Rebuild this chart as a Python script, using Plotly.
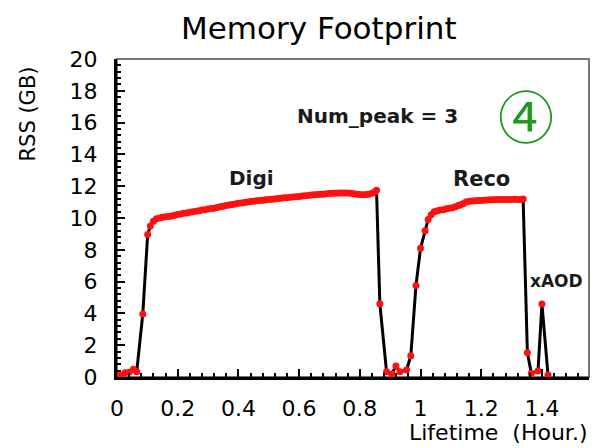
import plotly.graph_objects as go

# lifetime of the job (hours) and resident memory (GB)
lifetime_h = [
    0.0, 0.01, 0.026, 0.04, 0.054, 0.065, 0.085, 0.101,
    0.11, 0.12, 0.13, 0.14, 0.15, 0.16, 0.17, 0.18, 0.19, 0.20,
    0.21, 0.22, 0.23, 0.24, 0.25, 0.26, 0.27, 0.28, 0.29, 0.30,
    0.31, 0.32, 0.33, 0.34, 0.35, 0.36, 0.37, 0.38, 0.39, 0.40,
    0.41, 0.42, 0.43, 0.44, 0.45, 0.46, 0.47, 0.48, 0.49, 0.50,
    0.51, 0.52, 0.53, 0.54, 0.55, 0.56, 0.57, 0.58, 0.59, 0.60,
    0.61, 0.62, 0.63, 0.64, 0.65, 0.66, 0.67, 0.68, 0.69, 0.70,
    0.71, 0.72, 0.73, 0.74, 0.75, 0.76, 0.77, 0.78, 0.79, 0.80,
    0.81, 0.82, 0.83, 0.84, 0.85, 0.855,
    0.866, 0.888, 0.905, 0.919, 0.932, 0.954, 0.968, 0.985, 1.0, 1.015, 1.025, 1.035,
    1.045, 1.055, 1.065, 1.075, 1.085, 1.095, 1.105, 1.115, 1.125, 1.13,
    1.14, 1.15, 1.16, 1.17, 1.18, 1.19, 1.20, 1.21, 1.22, 1.23,
    1.24, 1.25, 1.26, 1.27, 1.28, 1.29, 1.30, 1.31, 1.32, 1.33, 1.338,
    1.352, 1.365, 1.387, 1.400, 1.420,
]
rss_gb = [
    0.1, 0.1, 0.27, 0.3, 0.48, 0.33, 3.97, 8.96,
    9.5, 9.8, 9.95, 10.0, 10.05, 10.08, 10.1, 10.12, 10.18, 10.22,
    10.25, 10.3, 10.32, 10.36, 10.4, 10.42, 10.46, 10.5, 10.52, 10.56,
    10.6, 10.62, 10.66, 10.7, 10.74, 10.78, 10.82, 10.85, 10.88, 10.92,
    10.95, 10.98, 11.0, 11.04, 11.06, 11.08, 11.1, 11.12, 11.15, 11.17,
    11.18, 11.2, 11.22, 11.25, 11.27, 11.28, 11.3, 11.32, 11.34, 11.36,
    11.38, 11.4, 11.42, 11.44, 11.46, 11.48, 11.5, 11.5, 11.52, 11.54,
    11.55, 11.56, 11.57, 11.58, 11.58, 11.57, 11.55, 11.52, 11.5, 11.48,
    11.47, 11.48, 11.5, 11.55, 11.65, 11.75,
    4.6, 0.33, 0.19, 0.69, 0.33, 0.44, 1.34, 5.76, 8.1, 9.2, 9.9, 10.2,
    10.4, 10.45, 10.5, 10.52, 10.58, 10.62, 10.65, 10.7, 10.78, 10.82,
    10.9, 11.0, 11.05, 11.07, 11.08, 11.1, 11.1, 11.12, 11.13, 11.15,
    11.15, 11.16, 11.17, 11.17, 11.17, 11.16, 11.17, 11.18, 11.17, 11.17, 11.2,
    1.53, 0.23, 0.38, 4.59, 0.13,
]

step_names = ["Digi", "Reco", "xAOD"]
step_label_x = [0.443, 1.202, 1.449]
step_label_y = [12.49, 12.43, 6.06]
step_label_size = [20, 21, 17]

FONT = "DejaVu Sans, Liberation Sans, sans-serif"

fig = go.Figure()
fig.add_trace(go.Scatter(
    x=lifetime_h, y=rss_gb, mode="lines+markers",
    line=dict(color="black", width=3),
    marker=dict(color="#ff1010", size=7),
    showlegend=False,
))

for name, lx, ly, fs in zip(step_names, step_label_x, step_label_y, step_label_size):
    fig.add_annotation(x=lx, y=ly, text="<b>%s</b>" % name, showarrow=False,
                       font=dict(size=fs, color="#1a1a1a"))

fig.add_annotation(x=0.859, y=16.4, text="<b>Num_peak = 3</b>", showarrow=False,
                   font=dict(size=20, color="#1a1a1a"))
fig.add_annotation(x=1.346, y=16.6, text="④", showarrow=False,
                   font=dict(size=56, color="#1e9a1e", family="Noto Sans CJK JP"))

fig.add_annotation(xref="paper", yref="paper", x=0, y=1.0, xshift=-90, yshift=-6,
                   xanchor="center", yanchor="top",
                   text="RSS (GB)", textangle=-90, showarrow=False,
                   font=dict(size=21, color="black"))
fig.add_annotation(xref="paper", yref="paper", x=1.0, y=-0.176, xanchor="right", yanchor="middle",
                   text="Lifetime  (Hour.)", showarrow=False,
                   font=dict(size=22, color="black"))

fig.add_shape(type="rect", xref="paper", yref="paper", x0=0, y0=0, x1=1, y1=1,
              line=dict(color="#777777", width=2), layer="below")

fig.update_xaxes(range=[0, 1.555], dtick=0.2, ticks="inside", ticklen=8, tickwidth=2,
                 tickcolor="black", minor=dict(dtick=0.04, ticks="inside", ticklen=4,
                                               tickwidth=2, tickcolor="black"),
                 showline=True, linewidth=3, linecolor="black", showgrid=False,
                 zeroline=False, ticklabelstandoff=10,
                 tickfont=dict(size=22, color="black"))
fig.update_yaxes(range=[0, 20], dtick=2, ticks="inside", ticklen=8, tickwidth=2,
                 tickcolor="black", minor=dict(dtick=0.4, ticks="inside", ticklen=4,
                                               tickwidth=2, tickcolor="black"),
                 showline=True, linewidth=3, linecolor="black", showgrid=False,
                 zeroline=False, ticklabelstandoff=12,
                 tickfont=dict(size=22, color="black"))

# the page body adds an 8px margin, so the figure is a bit smaller than the window
fig.update_layout(
    width=592, height=440,
    margin=dict(l=109, r=11, t=51, b=71),
    title=dict(text="Memory Footprint", x=0.525, xanchor="center", y=0.955, yanchor="middle",
               font=dict(size=31, color="black")),
    font=dict(family=FONT),
    paper_bgcolor="white", plot_bgcolor="white",
)

fig.write_html("out.html")
